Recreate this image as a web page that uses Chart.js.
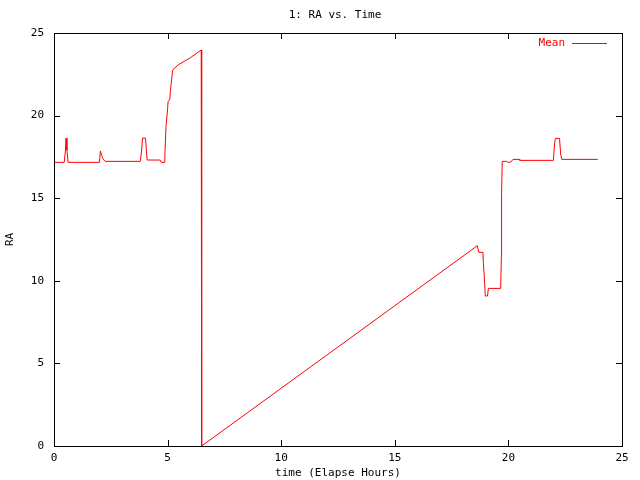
<!DOCTYPE html>
<html lang="en">
<head>
  <meta charset="UTF-8" />
  <title>1: RA vs. Time</title>
  <script src="https://cdn.jsdelivr.net/npm/chart.js"></script>
  <style>
    body { margin: 0; background: #fff; }
    #wrap { width: 640px; height: 480px; }
  </style>
</head>
<body>
  <div id="wrap"><canvas id="raChart" width="640" height="480"></canvas></div>

  <script>
    // values
    const hours = [0, 0.45, 0.5, 0.53, 0.57, 0.62, 2.0, 2.04, 2.1, 2.15, 2.25, 3.8, 3.85, 3.9, 4.03, 4.07, 4.1,
      4.67, 4.72, 4.85, 4.88, 4.93, 5.0, 5.02, 5.1, 5.12, 5.22, 5.27, 5.5, 6.0, 6.48, 6.49, 6.51,
      18.63, 18.7, 18.88, 18.9, 18.96, 18.98, 19.08, 19.12, 19.66, 19.69, 19.7, 19.73, 19.92, 19.95,
      20.1, 20.2, 20.48, 20.5, 21.98, 22.03, 22.07, 22.25, 22.3, 22.35, 23.93];
    const raMean = [17.17, 17.17, 17.85, 18.64, 17.9, 17.17, 17.17, 17.86, 17.6, 17.4, 17.23, 17.23, 17.8, 18.64, 18.64, 17.8, 17.31,
      17.31, 17.17, 17.17, 17.6, 19.33, 20.4, 20.84, 21.0, 21.45, 22.72, 22.83, 23.1, 23.5, 23.97, 12.0, 0,
      12.12, 11.72, 11.72, 11.06, 9.77, 9.08, 9.08, 9.54, 9.54, 11.46, 15.33, 17.23, 17.23, 17.18,
      17.18, 17.35, 17.35, 17.29, 17.29, 18.28, 18.62, 18.62, 17.67, 17.35, 17.35];
    const xTicks = [0, 5, 10, 15, 20, 25];
    const yTicks = [0, 5, 10, 15, 20, 25];

    const FONT = "'DejaVu Sans Mono', monospace";

    // gnuplot-style frame: border, inward ticks on all sides, title and key
    const framePlugin = {
      id: "frame",
      afterDraw(chart) {
        const ctx = chart.ctx;
        const a = chart.chartArea;
        const xs = chart.scales.x, ys = chart.scales.y;
        ctx.save();
        ctx.strokeStyle = "#000";
        ctx.lineWidth = 1;
        ctx.strokeRect(Math.round(a.left) + 0.5, Math.round(a.top) + 0.5,
          Math.round(a.right - a.left), Math.round(a.bottom - a.top));
        ctx.beginPath();
        xTicks.forEach(v => {
          const px = Math.round(xs.getPixelForValue(v)) + 0.5;
          ctx.moveTo(px, a.bottom); ctx.lineTo(px, a.bottom - 6);
          ctx.moveTo(px, a.top); ctx.lineTo(px, a.top + 6);
        });
        yTicks.forEach(v => {
          const py = Math.round(ys.getPixelForValue(v)) + 0.5;
          ctx.moveTo(a.left, py); ctx.lineTo(a.left + 6, py);
          ctx.moveTo(a.right, py); ctx.lineTo(a.right - 6, py);
        });
        ctx.stroke();

        ctx.font = "11px " + FONT;
        ctx.fillStyle = "#000";
        ctx.textAlign = "center";
        ctx.textBaseline = "middle";
        ctx.fillText("1: RA vs. Time", (a.left + a.right) / 2 - 3, 15);

        // key
        ctx.fillStyle = "#ff0000";
        ctx.textAlign = "right";
        ctx.fillText("Mean", 565, 43);
        ctx.strokeStyle = "#ff0000";
        ctx.beginPath();
        ctx.moveTo(572, 43.5); ctx.lineTo(607, 43.5);
        ctx.stroke();
        ctx.restore();
      }
    };

    new Chart(document.getElementById("raChart"), {
      type: "line",
      data: {
        datasets: [{
          label: "Mean",
          data: hours.map((h, i) => ({ x: h, y: raMean[i] })),
          borderColor: "#ff0000",
          borderWidth: 1,
          pointRadius: 0,
          tension: 0,
          fill: false
        }]
      },
      options: {
        responsive: false,
        animation: false,
        layout: { padding: { top: 33, right: 18, left: 4, bottom: 0 } },
        plugins: {
          legend: { display: false },
          title: { display: false },
          tooltip: { enabled: false }
        },
        scales: {
          x: {
            type: "linear",
            min: 0, max: 25,
            afterBuildTicks: s => { s.ticks = xTicks.map(v => ({ value: v })); },
            afterFit: s => { s.height = 34; },
            grid: { display: false, drawTicks: false },
            border: { display: false },
            ticks: { padding: 6, color: "#000", font: { family: FONT, size: 11 }, maxRotation: 0 },
            title: { display: true, text: "time (Elapse Hours)", color: "#000", padding: { top: 0, bottom: 0 }, font: { family: FONT, size: 11 } }
          },
          y: {
            min: 0, max: 25,
            afterBuildTicks: s => { s.ticks = yTicks.map(v => ({ value: v })); },
            afterFit: s => { s.width = 50; },
            grid: { display: false, drawTicks: false },
            border: { display: false },
            ticks: { padding: 10, color: "#000", font: { family: FONT, size: 11 } },
            title: { display: true, text: "RA", color: "#000", padding: { top: 0, bottom: 0 }, font: { family: FONT, size: 11 } }
          }
        }
      },
      plugins: [framePlugin]
    });
  </script>
</body>
</html>
